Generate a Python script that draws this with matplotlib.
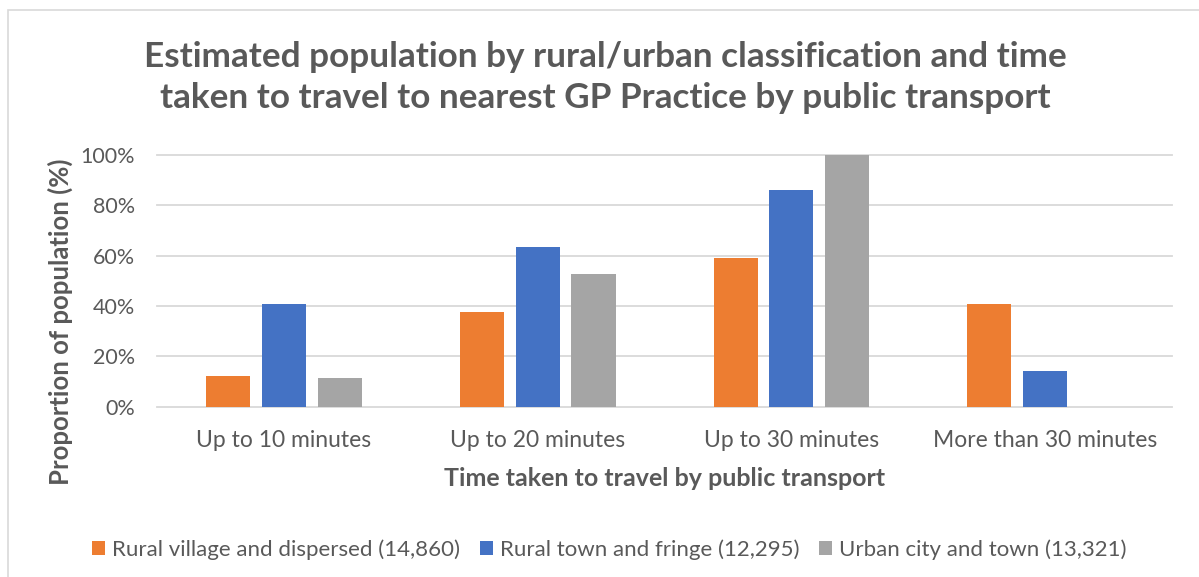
import numpy as np
import matplotlib.pyplot as plt
from matplotlib.patches import Rectangle, Patch

plt.rcParams['font.family'] = ['Lato', 'DejaVu Sans']

# data
categories = ['Up to 10 minutes', 'Up to 20 minutes', 'Up to 30 minutes', 'More than 30 minutes']
series_names = ['Rural village and dispersed (14,860)',
                'Rural town and fringe (12,295)',
                'Urban city and town (13,321)']
rural_village = [12.3, 37.6, 59.1, 40.7]
rural_town = [40.7, 63.3, 86.0, 14.1]
urban_city = [11.3, 52.7, 100.0, 0.0]
y_ticks = [0, 20, 40, 60, 80, 100]

colors = ['#ED7D31', '#4472C4', '#A5A5A5']
text_color = '#595959'
grid_color = '#D9D9D9'

fig = plt.figure(figsize=(11.99, 5.77), dpi=100)
ax = fig.add_axes([0.131, 0.2951, 0.8465, 0.4363])

# outer chart frame
fig.patches.append(Rectangle((8 / 1199, -0.1), 1.2, 1.1 - 10 / 577, transform=fig.transFigure,
                             fill=False, edgecolor=grid_color, linewidth=1.2))

x = np.arange(len(categories))
bar_w = 0.174
step = 0.22
for i, (vals, name) in enumerate(zip([rural_village, rural_town, urban_city], series_names)):
    ax.bar(x + (i - 1) * step, vals, width=bar_w, color=colors[i], label=name, zorder=3)

# gridlines
for v in y_ticks:
    ax.axhline(v, color=grid_color, linewidth=1.3, zorder=1, clip_on=False)

ax.set_xlim(-0.5, 3.5)
ax.set_ylim(0, 100)
ax.set_yticks(y_ticks)
ax.set_yticklabels([f'{v}%' for v in y_ticks])
ax.set_xticks(x)
ax.set_xticklabels(categories)
ax.tick_params(axis='y', length=0, pad=16, labelsize=15.5, labelcolor=text_color)
ax.tick_params(axis='x', length=0, pad=17, labelsize=16.5, labelcolor=text_color)
for s in ax.spines.values():
    s.set_visible(False)

# y axis title sits lower than the plot centre, as in the reference
fig.text(60 / 1199, 1 - 322 / 577, 'Proportion of population (%)', rotation=90,
         ha='center', va='center', fontsize=18.5, fontweight='bold', color=text_color)
ax.set_xlabel('Time taken to travel by public transport', fontsize=18, fontweight='bold',
              color=text_color, labelpad=11)

fig.text(0.5045, 0.866, 'Estimated population by rural/urban classification and time\n'
         'taken to travel to nearest GP Practice by public transport',
         ha='center', va='center', fontsize=25.3, fontweight='bold', color=text_color,
         linespacing=1.36)

handles = [Patch(facecolor=c) for c in colors]
fig.legend(handles, series_names, loc='center', bbox_to_anchor=(0.508, 0.048), ncol=3,
           frameon=False, fontsize=16, labelcolor=text_color, handlelength=0.6,
           handleheight=0.6, handletextpad=0.3, columnspacing=0.9)

fig.savefig('out.png', dpi=100)
